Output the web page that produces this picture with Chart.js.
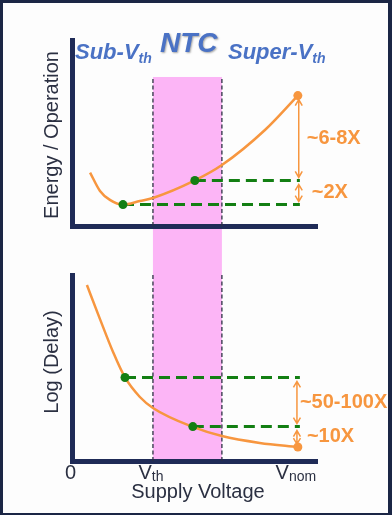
<!DOCTYPE html>
<html>
<head>
<meta charset="utf-8">
<script src="https://cdn.jsdelivr.net/npm/chart.js@4.4.1/dist/chart.umd.min.js"></script>
<style>
  html, body { margin: 0; padding: 0; background: #1b2645; }
  #frame { position: relative; width: 392px; height: 515px; overflow: hidden; }
  #paper { position: absolute; left: 3px; top: 3px; width: 385px; height: 510px; background: #fdfdfd; }
  #energyChart { position: absolute; left: 0; top: 0; }
  #delayChart { position: absolute; left: 0; top: 250px; }
</style>
</head>
<body>
<div id="frame">
  <div id="paper"></div>
  <canvas id="energyChart" width="392" height="250"></canvas>
  <canvas id="delayChart" width="392" height="265"></canvas>
</div>
<script>
// DATA (supply voltage normalised to Vnom = 1)

const vth = 0.357;
const ntcLow = 0.357;
const ntcHigh = 0.663;
const vnom = 1.0;
const xMax = 1.085;

// energy / operation curve
const energyV = [0.078, 0.122, 0.166, 0.224, 0.299, 0.357, 0.543, 0.663, 0.854, 1.0];
const energyE = [2.50, 1.64, 1.22, 1.00, 1.17, 1.31, 2.13, 2.85, 4.49, 6.10];
const energyMarkV = [0.224, 0.543];
const energyMarkE = [1.00, 2.13];
const energyRatios = ['~6-8X', '~2X'];
const energyMax = 8.7;
const energyBandTop = 6.97;

// log(delay) curve
const delayV = [0.064, 0.122, 0.180, 0.233, 0.299, 0.357, 0.534, 0.663, 0.831, 1.0];
const delayD = [9.46, 7.63, 5.86, 4.49, 3.44, 2.85, 1.83, 1.34, 0.97, 0.75];
const delayMarkV = [0.233, 0.534];
const delayMarkD = [4.49, 1.85];
const delayRatios = ['~50-100X', '~10X'];
const delayMax = 10;

// x axis ticks
const tickValues = [0, vth, vnom];
const tickMain = ['0', 'V', 'V'];
const tickSub = ['', 'th', 'nom'];

// STYLE

const ORANGE = '#f7963f';
const GREEN = '#137f13';
const NAVY = '#1f2b57';
const PINK = '#fcb5f6';
const BLUE = '#4a72c5';
const INK = '#2b3042';
const FONT = "'Liberation Sans', Arial, sans-serif";
const dashEnd = 1.009;

function pts(xs, ys) {
  return xs.map((x, i) => ({x: x, y: ys[i]}));
}

function arrow(ctx, x, yA, yB) {
  const h = 6, w = 3.5;
  const d = yB > yA ? 1 : -1;
  ctx.beginPath();
  ctx.moveTo(x, yA); ctx.lineTo(x, yB);
  ctx.moveTo(x - w, yA + d * h); ctx.lineTo(x, yA); ctx.lineTo(x + w, yA + d * h);
  ctx.moveTo(x - w, yB - d * h); ctx.lineTo(x, yB); ctx.lineTo(x + w, yB - d * h);
  ctx.stroke();
}

function buildDatasets(curveV, curveY, markV, markY, bandTop) {
  const last = curveV.length - 1;
  return [
    {data: pts(markV, markY), showLine: false, pointRadius: 4.5,
     pointBackgroundColor: GREEN, pointBorderWidth: 0},
    {data: pts(curveV, curveY), borderColor: ORANGE, borderWidth: 2.5,
     cubicInterpolationMode: 'monotone',
     pointRadius: c => c.dataIndex === last ? 4.5 : 0,
     pointBackgroundColor: ORANGE, pointBorderWidth: 0},
    {data: [{x: markV[0], y: markY[0]}, {x: dashEnd, y: markY[0]}],
     borderColor: GREEN, borderWidth: 3, borderDash: [11, 6], pointRadius: 0},
    {data: [{x: markV[1], y: markY[1]}, {x: dashEnd, y: markY[1]}],
     borderColor: GREEN, borderWidth: 3, borderDash: [11, 6], pointRadius: 0},
    {data: [{x: ntcLow, y: 0}, {x: ntcLow, y: bandTop}],
     borderColor: INK, borderWidth: 1.3, borderDash: [4, 2.5], pointRadius: 0},
    {data: [{x: ntcHigh, y: 0}, {x: ntcHigh, y: bandTop}],
     borderColor: INK, borderWidth: 1.3, borderDash: [4, 2.5], pointRadius: 0}
  ];
}

function baseOptions(yMax, padding) {
  return {
    responsive: false,
    animation: false,
    layout: {padding: padding},
    plugins: {legend: {display: false}, tooltip: {enabled: false}},
    scales: {
      x: {type: 'linear', min: 0, max: xMax,
          ticks: {display: false}, grid: {display: false},
          border: {color: NAVY, width: 5},
          afterFit: s => { s.height = 0; }},
      y: {type: 'linear', min: 0, max: yMax,
          ticks: {display: false}, grid: {display: false},
          border: {color: NAVY, width: 5},
          afterFit: s => { s.width = 0; }}
    }
  };
}

// pink NTC band, painted before the axes so the axis lines stay on top
function bandPlugin(fromTop, toBottom) {
  return {
    id: 'ntcBand',
    beforeDraw(chart) {
      const {ctx, scales: {x, y}, chartArea} = chart;
      const x0 = x.getPixelForValue(ntcLow);
      const x1 = x.getPixelForValue(ntcHigh);
      const top = fromTop === null ? 0 : y.getPixelForValue(fromTop);
      const bottom = toBottom ? chartArea.bottom : chart.height;
      ctx.save();
      ctx.fillStyle = PINK;
      ctx.fillRect(x0, top, x1 - x0, bottom - top);
      ctx.restore();
    }
  };
}

function ratioPlugin(levels, labels, arrowX, textDx) {
  return {
    id: 'ratios',
    afterDraw(chart) {
      const {ctx, scales: {x, y}} = chart;
      const ax = x.getPixelForValue(arrowX);
      ctx.save();
      ctx.strokeStyle = ORANGE;
      ctx.fillStyle = ORANGE;
      ctx.lineWidth = 1.5;
      ctx.font = 'bold 20px ' + FONT;
      ctx.textBaseline = 'middle';
      for (let i = 0; i < labels.length; i++) {
        const yA = y.getPixelForValue(levels[i]);
        const yB = y.getPixelForValue(levels[i + 1]);
        arrow(ctx, ax, yA + 4, yB - 3);
        ctx.fillText(labels[i], ax + textDx[i], (yA + yB) / 2);
      }
      ctx.restore();
    }
  };
}

function yTitle(ctx, text, cx, cy) {
  ctx.save();
  ctx.translate(cx, cy);
  ctx.rotate(-Math.PI / 2);
  ctx.font = '20px ' + FONT;
  ctx.fillStyle = INK;
  ctx.textAlign = 'center';
  ctx.textBaseline = 'alphabetic';
  ctx.fillText(text, 0, 0);
  ctx.restore();
}

function subText(ctx, main, sub, x, y, mainFont, subFont, drop) {
  ctx.font = mainFont;
  ctx.fillText(main, x, y);
  const w = ctx.measureText(main).width;
  ctx.font = subFont;
  ctx.fillText(sub, x + w, y + drop);
}

const energyDecor = {
  id: 'energyDecor',
  afterDraw(chart) {
    const ctx = chart.ctx;
    yTitle(ctx, 'Energy / Operation', 58, 135);
    ctx.save();
    ctx.fillStyle = BLUE;
    ctx.textBaseline = 'alphabetic';
    subText(ctx, 'Sub-V', 'th', 75, 59, 'italic bold 22px ' + FONT, 'italic bold 14px ' + FONT, 4);
    subText(ctx, 'Super-V', 'th', 228, 59, 'italic bold 22px ' + FONT, 'italic bold 14px ' + FONT, 4);
    ctx.shadowColor = 'rgba(0,0,0,0.35)';
    ctx.shadowOffsetX = 1;
    ctx.shadowOffsetY = 1;
    ctx.shadowBlur = 2;
    ctx.font = 'italic bold 28px ' + FONT;
    ctx.fillText('NTC', 160, 52);
    ctx.restore();
  }
};

const delayDecor = {
  id: 'delayDecor',
  afterDraw(chart) {
    const {ctx, scales: {x}} = chart;
    yTitle(ctx, 'Log (Delay)', 58, 112);
    ctx.save();
    ctx.fillStyle = INK;
    ctx.textBaseline = 'alphabetic';
    for (let i = 0; i < tickValues.length; i++) {
      const px = x.getPixelForValue(tickValues[i]) - 2;
      ctx.font = '20px ' + FONT;
      const wm = ctx.measureText(tickMain[i]).width;
      ctx.font = '14px ' + FONT;
      const ws = ctx.measureText(tickSub[i]).width;
      subText(ctx, tickMain[i], tickSub[i], px - (wm + ws) / 2, 229, '20px ' + FONT, '14px ' + FONT, 2);
    }
    ctx.font = '20px ' + FONT;
    ctx.textAlign = 'center';
    ctx.fillText('Supply Voltage', 198, 248);
    ctx.restore();
  }
};

new Chart(document.getElementById('energyChart'), {
  type: 'line',
  data: {datasets: buildDatasets(energyV, energyE, energyMarkV, energyMarkE, energyBandTop)},
  options: baseOptions(energyMax, {left: 72.5, right: 75, top: 40, bottom: 24}),
  plugins: [bandPlugin(energyBandTop, false), energyDecor,
            ratioPlugin([energyE[energyE.length - 1], energyMarkE[1], energyMarkE[0]],
                        energyRatios, 1.004, [8, 13])]
});

new Chart(document.getElementById('delayChart'), {
  type: 'line',
  data: {datasets: buildDatasets(delayV, delayD, delayMarkV, delayMarkD, delayMax)},
  options: baseOptions(delayMax, {left: 72.5, right: 75, top: 25, bottom: 54}),
  plugins: [bandPlugin(null, true), delayDecor,
            ratioPlugin([delayMarkD[0], delayMarkD[1], delayD[delayD.length - 1]],
                        delayRatios, 0.996, [3, 10])]
});
</script>
</body>
</html>
